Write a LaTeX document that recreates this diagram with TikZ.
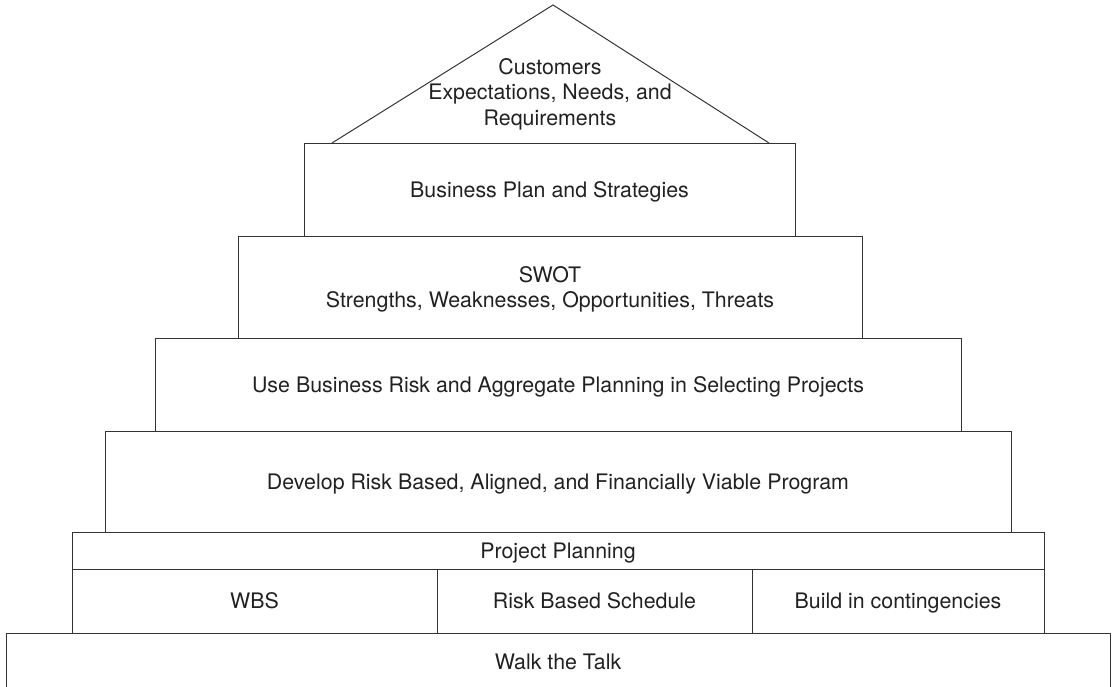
\documentclass[tikz,border=0pt]{standalone}
\usepackage{fontspec}
\setmainfont{TeX Gyre Heros}
\usepackage{tikz}
\usetikzlibrary{positioning}
\definecolor{inkline}{rgb}{0.2,0.2,0.2}
\definecolor{inktext}{rgb}{0.13,0.13,0.13}

\begin{document}
\begin{tikzpicture}[
    tier/.style={rectangle, draw=inkline, line width=0.7pt, inner sep=0pt, outer sep=0pt, align=center, text=inktext, font=\fontsize{15.2}{17.5}\selectfont},
    oneline/.style={tier, text height=1.1em, text depth=0.03em},
    roof/.style={draw=inkline, line width=0.7pt, line join=miter}
]
\useasboundingbox (0,0) rectangle (27.825,-17.175);

% roof
\coordinate (apex) at (13.825,-0.125);
\coordinate (eaveL) at (8.3,-3.575);
\coordinate (eaveR) at (19.225,-3.575);
\draw[roof] (eaveL) -- (apex) -- (eaveR);
\node[tier, draw=none, font=\fontsize{15.2}{18.2}\selectfont] (customers) at (13.75,-2.35) {Customers\\Expectations, Needs, and\\Requirements};

% stacked tiers
\node[oneline, minimum width=12.275cm, minimum height=2.325cm] (business) at (13.7375,-4.7375) {Business Plan and Strategies};
\node[tier, text depth=0pt, minimum width=15.6cm, minimum height=2.55cm] (swot) at (13.75,-7.175) {SWOT\\Strengths, Weaknesses, Opportunities, Threats};
\node[oneline, minimum width=20.15cm, minimum height=2.325cm] (selecting) at (13.95,-9.6125) {Use Business Risk and Aggregate Planning in Selecting Projects};
\node[oneline, minimum width=22.65cm, minimum height=2.525cm] (program) at (13.95,-12.0375) {Develop Risk Based, Aligned, and Financially Viable Program};
\node[oneline, minimum width=24.3cm, minimum height=0.925cm] (planning) at (13.95,-13.7625) {Project Planning};

% planning parts
\node[oneline, minimum width=9.125cm, minimum height=1.6cm] (wbs) at (6.3625,-15.025) {WBS};
\node[oneline, minimum width=7.875cm, minimum height=1.6cm] (schedule) at (14.8625,-15.025) {Risk Based Schedule};
\node[oneline, minimum width=7.3cm, minimum height=1.6cm] (contingency) at (22.45,-15.025) {Build in contingencies};

% base
\node[oneline, minimum width=27.6cm, minimum height=1.425cm] (walk) at (13.95,-16.5375) {Walk the Talk};

\end{tikzpicture}
\end{document}
